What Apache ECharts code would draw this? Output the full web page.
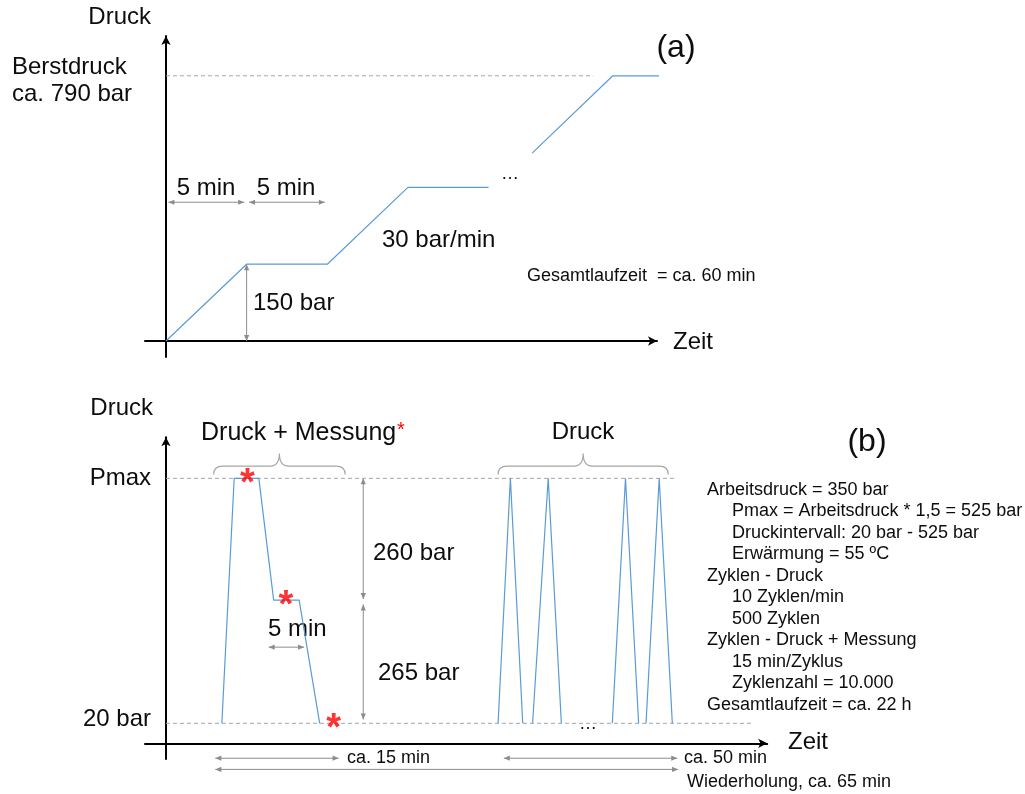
<!DOCTYPE html>
<html>
<head>
<meta charset="utf-8">
<script src="https://cdn.jsdelivr.net/npm/echarts@6/dist/echarts.min.js"></script>
<style>
  html, body { margin: 0; padding: 0; background: #fff; }
  #chart { width: 1025px; height: 794px; }
</style>
</head>
<body>
<div id="chart"></div>
<script>
// (a) Berstdruckprüfung: Zeit in min, Druck in bar (null = Lücke "...")
const aTime  = [0, 5, 10, 15, 20, null, 22.7, 27.7, 32.7];
const aPress = [0, 150, 150, 300, 300, null, 367, 518, 518];
const aBurstLevel = 518;
const aBurstEnd = 26.5;

// (b) Zyklen: ein Zyklus Druck + Messung, dann reine Druckzyklen
const cycleTime  = [6.8, 8.3, 11.3, 13.1, 16.2, 18.7];
const cyclePress = [20, 525, 525, 274, 274, 20];
const pulseTime  = [40.4, 41.9, 43.4, null, 44.6, 46.5, 48.1, null, 54.3, 55.9, 57.5, null, 58.4, 60.0, 61.6];
const pulsePress = [20, 525, 20, null, 20, 525, 20, null, 20, 525, 20, null, 20, 525, 20];
const starTime  = [9.9, 14.6, 20.4];
const starPress = [525, 274, 20];
const pMax = 525;
const pMin = 20;
const pMaxEnd = 61.8;
const pMinEnd = 71.2;

// y-axis tick labels
const aTicks = [518];
const aTickNames = ['Berstdruck', 'ca. 790 bar'];
const bTicks = [20, 525];
const bTickNames = ['20 bar', 'Pmax'];

// dimension arrows [x1, y1, x2, y2] in data units
const dimsA = [[0.15, 271, 4.85, 271], [5.15, 271, 9.85, 271], [5.0, 150, 5.0, 0]];
const dimsB = [[12.5, 177, 16.8, 177], [24, 525, 24, 276], [24, 265, 24, 28],
               [6, -52, 21, -52], [41.1, -52, 62.2, -52], [6, -75, 62.3, -75]];
// braces [xLeft, xRight, yBottom, yTop]
const bracesB = [[5.8, 21.8, 533, 576], [40.4, 61.1, 533, 576]];

const notes = [
  [0, 'Arbeitsdruck = 350 bar'],
  [1, 'Pmax = Arbeitsdruck * 1,5 = 525 bar'],
  [1, 'Druckintervall: 20 bar - 525 bar'],
  [1, 'Erwärmung = 55 ºC'],
  [0, 'Zyklen - Druck'],
  [1, '10 Zyklen/min'],
  [1, '500 Zyklen'],
  [0, 'Zyklen - Druck + Messung'],
  [1, '15 min/Zyklus'],
  [1, 'Zyklenzahl = 10.000'],
  [0, 'Gesamtlaufzeit = ca. 22 h']
];

const FONT = '"Liberation Sans", Arial, sans-serif';
const INK = '#0d0d0d';
const BLUE = '#5b9bd5';
const GREY = '#8c8c8c';

const pairs = (xs, ys) => xs.map((x, i) => [x, ys[i]]);

function renderDim(params, api) {
  const a = api.coord([api.value(0), api.value(1)]);
  const b = api.coord([api.value(2), api.value(3)]);
  const ang = Math.atan2(b[1] - a[1], b[0] - a[0]);
  const head = (p, dir) => {
    const L = 6, W = 2.6;
    const bx = p[0] - Math.cos(dir) * L, by = p[1] - Math.sin(dir) * L;
    return {
      type: 'polygon',
      shape: { points: [p, [bx - Math.sin(dir) * W, by + Math.cos(dir) * W], [bx + Math.sin(dir) * W, by - Math.cos(dir) * W]] },
      style: { fill: GREY }
    };
  };
  return {
    type: 'group',
    children: [
      { type: 'line', shape: { x1: a[0], y1: a[1], x2: b[0], y2: b[1] }, style: { stroke: GREY, lineWidth: 1 } },
      head(b, ang),
      head(a, ang + Math.PI)
    ]
  };
}

function renderBrace(params, api) {
  const l = api.coord([api.value(0), api.value(2)]);
  const r = api.coord([api.value(1), api.value(2)]);
  const t = api.coord([api.value(0), api.value(3)]);
  const yb = l[1], yt = t[1], xl = l[0], xr = r[0];
  const xc = (xl + xr) / 2, ym = yb - (yb - yt) * 0.4, rad = 9;
  const d = `M${xl},${yb} Q${xl},${ym} ${xl + rad},${ym} L${xc - rad},${ym} Q${xc},${ym} ${xc},${yt} ` +
            `Q${xc},${ym} ${xc + rad},${ym} L${xr - rad},${ym} Q${xr},${ym} ${xr},${yb}`;
  return { type: 'path', shape: { pathData: d }, style: { stroke: '#a6a6a6', lineWidth: 1.2, fill: null } };
}

function txt(x, y, text, size, align, color) {
  return {
    type: 'text', x: x, y: y, silent: true,
    style: { text: text, fill: color || INK, font: `${size}px ${FONT}`, align: align || 'left', verticalAlign: 'middle' }
  };
}

const chart = echarts.init(document.getElementById('chart'), null, { renderer: 'canvas' });

const axisLine = { onZero: true, symbol: ['none', 'arrow'], symbolSize: [7, 9], lineStyle: { color: '#000', width: 2 } };
const dashed = { color: '#a6a6a6', width: 1, type: [4, 3] };

const graphics = [
  txt(151, 17, 'Druck', 24, 'right'),
  txt(206, 188, '5 min', 24, 'center'),
  txt(286, 188, '5 min', 24, 'center'),
  txt(253, 303, '150 bar', 24),
  txt(382, 240, '30 bar/min', 24),
  txt(510, 174, '…', 18, 'center'),
  txt(676, 48, '(a)', 32, 'center'),
  txt(527, 276, 'Gesamtlaufzeit  = ca. 60 min', 18),
  txt(673, 342, 'Zeit', 24),

  txt(153, 408, 'Druck', 24, 'right'),
  txt(201, 433, 'Druck + Messung', 25),
  txt(401, 430, '*', 20, 'center', '#ff0000'),
  txt(583, 432, 'Druck', 24, 'center'),
  txt(867, 442, '(b)', 32, 'center'),
  txt(373, 553, '260 bar', 24),
  txt(378, 673, '265 bar', 24),
  txt(268, 629, '5 min', 24),
  txt(588, 724, '…', 18, 'center'),
  txt(347, 758, 'ca. 15 min', 18),
  txt(684, 758, 'ca. 50 min', 18),
  txt(687, 782, 'Wiederholung, ca. 65 min', 18),
  txt(788, 742, 'Zeit', 24)
];
notes.forEach((n, i) => graphics.push(txt(n[0] ? 732 : 707, 490 + i * 21.5, n[1], 18)));

chart.setOption({
  backgroundColor: '#fff',
  animation: false,
  textStyle: { fontFamily: FONT },
  grid: [
    { left: 145, top: 36, width: 512, height: 321, outerBoundsMode: 'none', containLabel: false },
    { left: 145, top: 437.2, width: 622.2, height: 321.8, outerBoundsMode: 'none', containLabel: false }
  ],
  xAxis: [
    { type: 'value', gridIndex: 0, min: -1.3, max: 30.44, axisLine: axisLine,
      axisTick: { show: false }, axisLabel: { show: false }, splitLine: { show: false } },
    { type: 'value', gridIndex: 1, min: -2.55, max: 73.14,
      axisLine: Object.assign({}, axisLine, { onZeroAxisIndex: 2 }),
      axisTick: { show: false }, axisLabel: { show: false }, splitLine: { show: false } }
  ],
  yAxis: [
    { type: 'value', gridIndex: 0, min: -31.25, max: 595.7, axisLine: axisLine,
      axisTick: { show: false }, splitLine: { show: false },
      axisLabel: { customValues: aTicks,
                   formatter: () => '{t|' + aTickNames[0] + '}\n{b|' + aTickNames[1] + '}',
                   rich: {
                     t: { fontSize: 24, lineHeight: 37, verticalAlign: 'bottom', color: INK, fontFamily: FONT },
                     b: { fontSize: 24, lineHeight: 29, color: INK, fontFamily: FONT }
                   },
                   align: 'left', margin: 133, color: INK, fontFamily: FONT } },
    { type: 'value', gridIndex: 1, min: -53.6, max: 609.8, axisLine: axisLine,
      axisTick: { show: false }, splitLine: { show: false },
      axisLabel: { customValues: bTicks,
                   formatter: (v) => (v === pMin ? '{lo|' + bTickNames[0] + '}' : bTickNames[bTicks.indexOf(v)]),
                   rich: { lo: { fontSize: 24, color: INK, fontFamily: FONT, padding: [0, 0, 8, 0] } },
                   margin: -6, fontSize: 24, color: INK, fontFamily: FONT } },
    // helper axis: places the time axis of (b) below the 20 bar level
    { type: 'value', gridIndex: 1, show: false, min: -15.7, max: 306.1 }
  ],
  series: [
    { type: 'line', xAxisIndex: 0, yAxisIndex: 0, data: pairs(aTime, aPress), clip: false,
      showSymbol: false, connectNulls: false, lineStyle: { color: BLUE, width: 1.2 }, z: 3 },
    { type: 'line', xAxisIndex: 0, yAxisIndex: 0, data: [[0, aBurstLevel], [aBurstEnd, aBurstLevel]],
      showSymbol: false, lineStyle: dashed },
    { type: 'custom', xAxisIndex: 0, yAxisIndex: 0, data: dimsA, renderItem: renderDim,
      encode: { x: [0, 2], y: [1, 3] }, clip: false },

    { type: 'line', xAxisIndex: 1, yAxisIndex: 1, data: [[0, pMax], [pMaxEnd, pMax]],
      showSymbol: false, lineStyle: dashed },
    { type: 'line', xAxisIndex: 1, yAxisIndex: 1, data: [[0, pMin], [pMinEnd, pMin]],
      showSymbol: false, lineStyle: dashed },
    { type: 'line', xAxisIndex: 1, yAxisIndex: 1, data: pairs(cycleTime, cyclePress), clip: false,
      showSymbol: false, lineStyle: { color: BLUE, width: 1.2 }, z: 3 },
    { type: 'line', xAxisIndex: 1, yAxisIndex: 1, data: pairs(pulseTime, pulsePress), clip: false,
      showSymbol: false, connectNulls: false, lineStyle: { color: BLUE, width: 1.2 }, z: 3 },
    { type: 'custom', xAxisIndex: 1, yAxisIndex: 1, data: dimsB, renderItem: renderDim,
      encode: { x: [0, 2], y: [1, 3] }, clip: false },
    { type: 'custom', xAxisIndex: 1, yAxisIndex: 1, data: bracesB, renderItem: renderBrace,
      encode: { x: [0, 1], y: [2, 3] }, clip: false },
    { type: 'scatter', xAxisIndex: 1, yAxisIndex: 1, data: pairs(starTime, starPress), clip: false,
      symbolSize: 1, itemStyle: { color: 'rgba(0,0,0,0)' }, z: 5,
      label: { show: true, position: 'inside', formatter: '*', color: '#ff0000', fontSize: 38,
               fontWeight: 'bold', fontFamily: FONT, offset: [0, 6] } }
  ],
  graphic: graphics
});
</script>
</body>
</html>
